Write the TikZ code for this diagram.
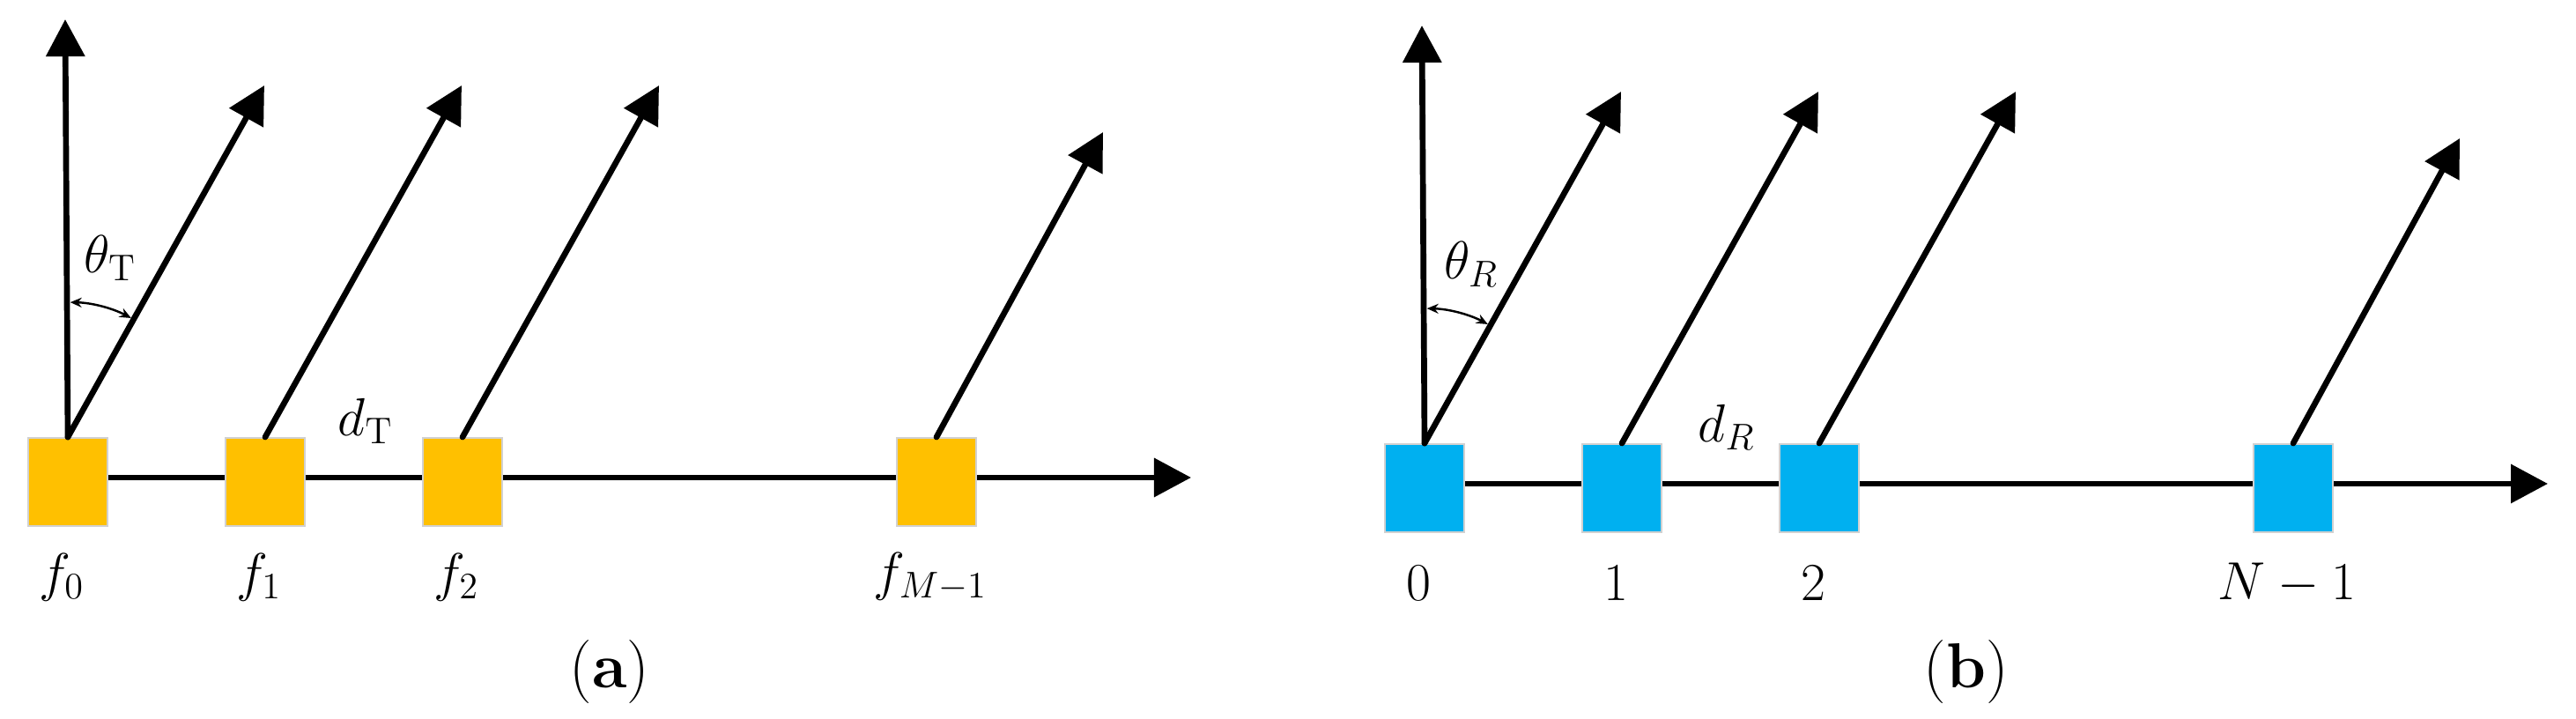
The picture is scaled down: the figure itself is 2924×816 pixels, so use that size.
\documentclass[tikz,border=0pt]{standalone}
\usetikzlibrary{arrows.meta}
\definecolor{txgold}{HTML}{FFC000}
\definecolor{rxblue}{HTML}{00B0F0}
\tikzset{
	elem/.style={draw=black!18, line width=0.5pt, minimum width=0.9cm, minimum height=1cm, inner sep=0pt, yshift=-0.05cm},
	ray/.style={line width=1.9pt, line cap=round, -{Triangle[length=0.42cm,width=0.43cm]}},
	ang/.style={line width=0.7pt, {Stealth[length=0.13cm,width=0.11cm]}-{Stealth[length=0.13cm,width=0.11cm]}},
	lbl/.style={font=\fontsize{16.5}{19}\selectfont},
	paneltag/.style={font=\fontsize{20.5}{24}\selectfont}
}
\begin{document}
\begin{tikzpicture}[x=0.01cm,y=0.01cm]
	\useasboundingbox (0,0) rectangle (2924,816);
	% (a) transmit array
	\coordinate (aend) at (1352,274);
	\draw[ray] (77,274) -- (aend);
	\foreach \x/\n/\t/\dx/\dy in {77/0/0/223/400, 301/1/1/223/400, 525/2/2/223/400, 1063/3/{M-1}/189/347} {
		\node[elem, fill=txgold] (t\n) at (\x,274) {};
		\coordinate (tt\n) at (\x+\dx,319+\dy);
		\draw[ray] (t\n.north) -- (tt\n);
		\node[lbl] (ft\n) at (\x-7,161) {$f_{\t}$};
	}
	\coordinate (tv) at (74,794);
	\draw[ray] (t0.north) -- (tv);
	\draw[ang] (t0.north) ++(89:153) arc (89:62:153);
	\node[lbl] (tht) at (125,523) {$\theta_{\mathrm{T}}$};
	\node[lbl] (dt) at (415,338) {$d_{\mathrm{T}}$};
	\node[paneltag] (ca) at (692,53) {(\textbf{a})};
	% (b) receive array
	\begin{scope}[shift={(1540,-7)}]
		\coordinate (bend) at (1352,274);
		\draw[ray] (77,274) -- (bend);
		\foreach \x/\n/\t/\dx/\dy in {77/0/0/223/400, 301/1/1/223/400, 525/2/2/223/400, 1063/3/{N-1}/189/347} {
			\node[elem, fill=rxblue] (r\n) at (\x,274) {};
			\coordinate (rr\n) at (\x+\dx,319+\dy);
			\draw[ray] (r\n.north) -- (rr\n);
			\node[lbl] (fr\n) at (\x-7,161) {$\t$};
		}
		\coordinate (rv) at (74,794);
		\draw[ray] (r0.north) -- (rv);
		\draw[ang] (r0.north) ++(89:153) arc (89:62:153);
		\node[lbl] (thr) at (130,523) {$\theta_R$};
		\node[lbl] (dr) at (420,338) {$d_R$};
	\end{scope}
	\node[paneltag] (cb) at (2232,53) {(\textbf{b})};
\end{tikzpicture}
\end{document}
